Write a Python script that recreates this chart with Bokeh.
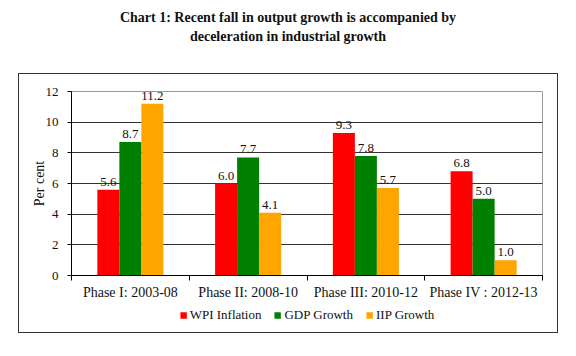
from bokeh.plotting import figure
from bokeh.models import ColumnDataSource, FixedTicker, Legend, LegendItem, Div
from bokeh.layouts import column
from bokeh.embed import file_html
from bokeh.resources import INLINE
from bokeh.core.properties import value

title_lines = ["Chart 1: Recent fall in output growth is accompanied by",
               "deceleration in industrial growth"]
phases = ["Phase I: 2003-08", "Phase II: 2008-10", "Phase III: 2010-12", "Phase IV : 2012-13"]
series = ["WPI Inflation", "GDP Growth", "IIP Growth"]
wpi = [5.6, 6.0, 9.3, 6.8]
gdp = [8.7, 7.7, 7.8, 5.0]
iip = [11.2, 4.1, 5.7, 1.0]
colors = ["#FF0000", "#008000", "#FFA500"]
y_ticks = [0, 2, 4, 6, 8, 10, 12]

FONT = "Liberation Serif"
BW = 0.187

p = figure(width=538, height=228, x_range=(0, 4), y_range=(0, 12),
           output_backend="svg", toolbar_location=None,
           min_border_left=52, min_border_right=15, min_border_top=17, min_border_bottom=27,
           margin=0)
p.background_fill_color = "white"
p.border_fill_color = "white"
p.outline_line_color = "#999999"

for k, (name, vals, col) in enumerate(zip(series, [wpi, gdp, iip], colors)):
    xs = [i + 0.5 + (k - 1) * BW for i in range(len(phases))]
    src = ColumnDataSource(dict(x=xs, top=vals, lab=["%.1f" % v for v in vals]))
    p.vbar(x="x", top="top", width=BW, source=src, fill_color=col, line_color=None)
    p.text(x="x", y="top", text="lab", source=src, text_align="center",
           text_baseline="bottom", y_offset=-4, text_font=value(FONT),
           text_font_size="13px", text_color="#111111")

# x axis: labels at centres, tick marks at category boundaries
p.xaxis.ticker = FixedTicker(ticks=[i + 0.5 for i in range(len(phases))],
                             minor_ticks=list(range(len(phases) + 1)))
p.xaxis.major_label_overrides = {i + 0.5: ph for i, ph in enumerate(phases)}
p.xaxis.major_tick_out = 0
p.xaxis.major_tick_in = 0
p.xaxis.minor_tick_out = 5
p.xaxis.minor_tick_in = 0
p.xaxis.minor_tick_line_color = "black"
p.xaxis.axis_line_color = "black"
p.xaxis.major_label_standoff = 4
p.xaxis.major_label_text_font = FONT
p.xaxis.major_label_text_font_size = "14px"
p.xaxis.major_label_text_color = "#111111"
p.xgrid.visible = False

p.yaxis.ticker = FixedTicker(ticks=y_ticks)
p.yaxis.major_tick_out = 4
p.yaxis.major_tick_in = 0
p.yaxis.minor_tick_line_color = None
p.yaxis.axis_line_color = "black"
p.yaxis.major_label_standoff = 9
p.yaxis.major_label_text_font = FONT
p.yaxis.major_label_text_font_size = "13px"
p.yaxis.major_label_text_color = "#111111"
p.yaxis.axis_label = "Per cent"
p.yaxis.axis_label_text_font = FONT
p.yaxis.axis_label_text_font_size = "14px"
p.yaxis.axis_label_text_font_style = "normal"
p.yaxis.axis_label_text_color = "#111111"
p.yaxis.axis_label_standoff = -4
p.ygrid.ticker = FixedTicker(ticks=y_ticks)
p.ygrid.grid_line_color = "#333333"

# legend strip below the chart (legend-only swatch renderers have zero height)
lg = figure(width=538, height=30, x_range=(0, 1), y_range=(0, 1),
            x_axis_type=None, y_axis_type=None, output_backend="svg",
            toolbar_location=None, min_border_left=52, min_border_right=15,
            min_border_top=0, min_border_bottom=4, margin=0)
lg.outline_line_color = None
lg.grid.visible = False
items = []
for name, col in zip(series, colors):
    r = lg.vbar(x=[0.5], top=[0], bottom=[0], width=0, fill_color=col, line_color=None)
    items.append(LegendItem(label=name, renderers=[r]))
legend = Legend(items=items, orientation="horizontal", location="center",
                label_text_font=FONT, label_text_font_size="13px", label_text_color="#111111",
                glyph_width=8, glyph_height=8, label_standoff=3, spacing=12,
                padding=0, margin=0, border_line_color=None, background_fill_alpha=0)
lg.add_layout(legend, "center")

box = column(p, lg, spacing=0, margin=(1, 0, 0, 19),
             styles={"box-shadow": "0 0 0 1px #333333"})

title = Div(text=title_lines[0] + "<br>" + title_lines[1],
            width=540, height=65, margin=(8, 0, 0, 18),
            styles={"text-align": "center", "font-family": "'Liberation Serif'",
                    "font-weight": "bold", "font-size": "14px", "line-height": "19px",
                    "color": "#111111"})

layout = column(title, box, spacing=0)
open("out.html", "w").write(file_html(layout, INLINE))
